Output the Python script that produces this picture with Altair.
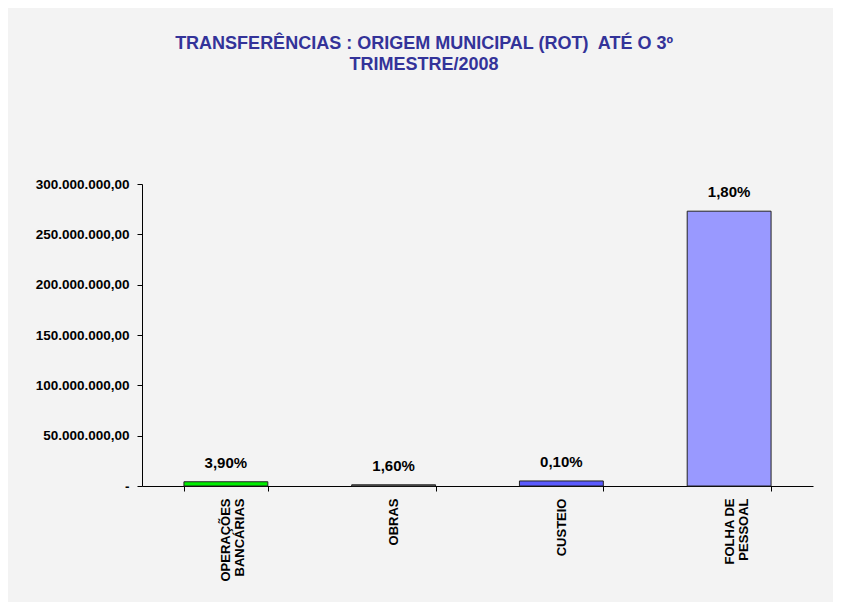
import altair as alt
import pandas as pd

categories = ["OPERAÇÕES|BANCÁRIAS", "OBRAS", "CUSTEIO", "FOLHA DE|PESSOAL"]
values = [4200000, 1200000, 5000000, 273000000]
pct_labels = ["3,90%", "1,60%", "0,10%", "1,80%"]
bar_colors = ["#00ee00", "#7f7f7f", "#5a5aff", "#9999ff"]
y_ticks = [0, 50000000, 100000000, 150000000, 200000000, 250000000, 300000000]

df = pd.DataFrame({"cat": categories, "val": values, "pct": pct_labels, "color": bar_colors})

FONT = "Liberation Sans"

y_label_expr = (
    "datum.value == 0 ? '-' : "
    "replace(replace(replace(format(datum.value, ',.2f'), regexp(',', 'g'), '#'), "
    "regexp('\\\\.', 'g'), ','), regexp('#', 'g'), '.')"
)

x = alt.X("cat:N", sort=categories, title=None,
          scale=alt.Scale(paddingInner=0.5, paddingOuter=0.25),
          axis=alt.Axis(labelAngle=270, labelExpr="split(datum.label, '|')",
                        tickBand="extent", labelFont=FONT, labelFontSize=13,
                        labelFontWeight="bold", labelColor="#000000",
                        labelPadding=7, labelLineHeight=14,
                        domainColor="#000000", tickColor="#000000", tickSize=5))
y = alt.Y("val:Q", title=None,
          scale=alt.Scale(domain=[0, 300000000], nice=False),
          axis=alt.Axis(values=y_ticks, labelExpr=y_label_expr, grid=False,
                        labelFont=FONT, labelFontSize=13.5, labelFontWeight="bold",
                        labelColor="#000000", labelPadding=8,
                        domainColor="#000000", tickColor="#000000", tickSize=5))

bars = alt.Chart(df).mark_bar(stroke="#222222", strokeWidth=1).encode(
    x=x, y=y, color=alt.Color("color:N", scale=None)
)
texts = alt.Chart(df).mark_text(dy=-19, font=FONT, fontSize=15, fontWeight="bold",
                                color="#000000").encode(
    x=alt.X("cat:N", sort=categories), y="val:Q", text="pct:N"
)

chart = alt.layer(bars, texts).properties(
    width=671, height=302,
    padding={"left": 27, "top": 27, "right": 20, "bottom": 20},
    background="#f3f3f3",
    title=alt.TitleParams(
        text=["TRANSFERÊNCIAS : ORIGEM MUNICIPAL (ROT)\u00a0 ATÉ O 3º", "TRIMESTRE/2008"],
        font=FONT, fontSize=18, fontWeight="bold", color="#333399",
        anchor="middle", frame="bounds", lineHeight=21, offset=103,
    ),
).configure_view(stroke=None)

chart.save("out.html", embed_options={"renderer": "svg", "actions": False})
